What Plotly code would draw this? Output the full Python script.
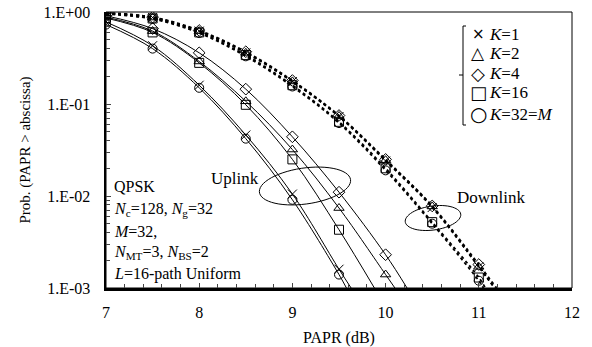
import numpy as np
import plotly.graph_objects as go

# ---------------- data ----------------
k_labels = ["K=1", "K=2", "K=4", "K=16", "K=32=M"]
symbols = ["x-thin-open", "triangle-up-open", "diamond-open", "square-open", "circle-open"]

# Uplink (solid lines), markers every 0.5 dB, last point = where curve meets 1E-3
ul_x_k1 = [7, 7.5, 8, 8.5, 9, 9.5, 9.63]
ul_k1 = [0.78, 0.43, 0.16, 0.046, 0.0105, 0.0016, 0.001]
ul_x_k2 = [7, 7.5, 8, 8.5, 9, 9.5, 10, 10.1]
ul_k2 = [0.88, 0.62, 0.29, 0.107, 0.032, 0.0074, 0.0014, 0.001]
ul_x_k4 = [7, 7.5, 8, 8.5, 9, 9.5, 10, 10.23]
ul_k4 = [0.91, 0.66, 0.36, 0.145, 0.044, 0.011, 0.0023, 0.001]
ul_x_k16 = [7, 7.5, 8, 8.5, 9, 9.5, 9.88]
ul_k16 = [0.86, 0.60, 0.28, 0.098, 0.025, 0.0043, 0.001]
ul_x_k32 = [7, 7.5, 8, 8.5, 9, 9.5, 9.58]
ul_k32 = [0.73, 0.40, 0.15, 0.042, 0.0091, 0.0014, 0.001]

# Downlink (dashed lines)
dl_x = [7, 7.5, 8, 8.5, 9, 9.5, 10, 10.5, 11]
dl_end_x = [11.17, 11.17, 11.19, 11.07, 11.05]
dl_k1 = [0.97, 0.87, 0.62, 0.36, 0.175, 0.073, 0.024, 0.0075, 0.0017]
dl_k2 = [0.97, 0.87, 0.62, 0.36, 0.176, 0.074, 0.0245, 0.0077, 0.0017]
dl_k4 = [0.98, 0.88, 0.63, 0.37, 0.18, 0.075, 0.025, 0.0078, 0.0018]
dl_k16 = [0.96, 0.85, 0.60, 0.34, 0.16, 0.064, 0.020, 0.0052, 0.0013]
dl_k32 = [0.95, 0.84, 0.59, 0.33, 0.155, 0.062, 0.019, 0.0050, 0.0012]

ytick_vals = [1e-3, 1e-2, 1e-1, 1]
ytick_text = ["1.E-03", "1.E-02", "1.E-01", "1.E+00"]
xtick_vals = [7, 8, 9, 10, 11, 12]

# ---------------- figure ----------------
FONT = "Liberation Serif"
fig = go.Figure()

ul_sets = [(ul_x_k1, ul_k1), (ul_x_k2, ul_k2), (ul_x_k4, ul_k4), (ul_x_k16, ul_k16), (ul_x_k32, ul_k32)]
dl_sets = [dl_k1, dl_k2, dl_k4, dl_k16, dl_k32]

for i, (xs, ys) in enumerate(ul_sets):
    fig.add_trace(go.Scatter(x=xs, y=ys, mode="lines", line=dict(color="black", width=1, shape="spline"),
                             showlegend=False, hoverinfo="skip"))
    fig.add_trace(go.Scatter(x=xs[:-1], y=ys[:-1], mode="markers",
                             marker=dict(symbol=symbols[i], size=9, color="black",
                                         line=dict(color="black", width=1)),
                             name=k_labels[i], showlegend=False))

for i, ys in enumerate(dl_sets):
    fig.add_trace(go.Scatter(x=dl_x + [dl_end_x[i]], y=ys + [1e-3], mode="lines",
                             line=dict(color="black", width=1.8, dash="3px,3px", shape="spline"),
                             showlegend=False, hoverinfo="skip"))
    fig.add_trace(go.Scatter(x=dl_x, y=ys, mode="markers",
                             marker=dict(symbol=symbols[i], size=9, color="black",
                                         line=dict(color="black", width=1)),
                             name=k_labels[i], showlegend=False))

# plot area in pixels
L, R, T, B = 106, 572, 12, 288
W, H = R - L, B - T


def px(xp):
    return (xp - L) / W


def py(yp):
    return (B - yp) / H


def ellipse_path(cx, cy, a, b, deg):
    th = np.deg2rad(deg)
    t = np.linspace(0, 2 * np.pi, 60)
    xs = cx + a * np.cos(t) * np.cos(th) + b * np.sin(t) * np.sin(th)
    ys = cy - a * np.cos(t) * np.sin(th) + b * np.sin(t) * np.cos(th)
    pts = [f"{px(x):.4f},{py(y):.4f}" for x, y in zip(xs, ys)]
    return "M" + " L".join(pts) + " Z"


shapes = [
    # thin frame (top/right)
    dict(type="rect", xref="paper", yref="paper", x0=0, y0=0, x1=1, y1=1,
         line=dict(color="black", width=1), layer="below"),
    dict(type="path", xref="paper", yref="paper", path=ellipse_path(305, 186, 46, 18, 8),
         line=dict(color="black", width=1)),
    dict(type="path", xref="paper", yref="paper", path=ellipse_path(433, 218, 28, 12, 8),
         line=dict(color="black", width=1)),
    # legend bracket
    dict(type="path", xref="paper", yref="paper",
         path=f"M{px(466)},{py(26)} L{px(463)},{py(26)} L{px(463)},{py(125)} L{px(466)},{py(125)}",
         line=dict(color="black", width=1)),
    dict(type="line", xref="paper", yref="paper", x0=px(459), y0=py(75), x1=px(463), y1=py(75),
         line=dict(color="black", width=1)),
]

annotations = []
leg_rows = ["×", "△", "◇", "□", "○"]
leg_sizes = [15, 17, 18, 18, 20]
leg_text = ["<i>K</i>=1", "<i>K</i>=2", "<i>K</i>=4", "<i>K</i>=16", "<i>K</i>=32=<i>M</i>"]
leg_y = [34, 53, 73, 93, 114]
for s, sz, tx, yy in zip(leg_rows, leg_sizes, leg_text, leg_y):
    annotations.append(dict(xref="paper", yref="paper", x=px(478), y=py(yy), text=s, showarrow=False,
                            xanchor="center", yanchor="middle",
                            font=dict(family="DejaVu Sans", size=sz, color="black")))
    annotations.append(dict(xref="paper", yref="paper", x=px(487), y=py(yy), text=tx, showarrow=False,
                            xanchor="left", yanchor="middle",
                            font=dict(family=FONT, size=17, color="black")))

info_lines = ["QPSK",
              "<i>N</i><sub>c</sub>=128, <i>N</i><sub>g</sub>=32",
              "<i>M</i>=32,",
              "<i>N</i><sub>MT</sub>=3, <i>N</i><sub>BS</sub>=2",
              "<i>L</i>=16-path Uniform"]
info_y = [187, 209, 231, 252, 274]
for tx, yy in zip(info_lines, info_y):
    annotations.append(dict(xref="paper", yref="paper", x=px(112), y=py(yy), text=tx, showarrow=False,
                            xanchor="left", yanchor="middle",
                            font=dict(family=FONT, size=16, color="black")))

annotations.append(dict(xref="paper", yref="paper", x=px(261), y=py(178), text="Uplink", showarrow=False,
                        xanchor="right", yanchor="middle", font=dict(family=FONT, size=17, color="black")))
annotations.append(dict(xref="paper", yref="paper", x=px(455), y=py(197), text="Downlink", showarrow=False,
                        xanchor="left", yanchor="middle", font=dict(family=FONT, size=17, color="black")))

fig.update_layout(
    width=592, height=347,
    margin=dict(l=L, r=592 - R, t=T, b=347 - B, autoexpand=False),
    paper_bgcolor="white", plot_bgcolor="white",
    font=dict(family=FONT, size=15, color="black"),
    showlegend=False,
    hovermode=False,
    shapes=shapes,
    annotations=annotations,
    xaxis=dict(range=[7, 12], tickvals=xtick_vals, ticks="inside", ticklen=5, tickwidth=1,
               showgrid=False, zeroline=False, showline=True, linewidth=2.5, linecolor="black",
               automargin=False,
               tickfont=dict(family=FONT, size=16), ticklabelstandoff=8, ticklabeloverflow="allow",
               minor=dict(dtick=0.2, ticks="inside", ticklen=4, tickwidth=1, showgrid=False),
               title=dict(text="PAPR (dB)", font=dict(family=FONT, size=16), standoff=12)),
    yaxis=dict(type="log", range=[-3, 0], tickvals=ytick_vals, ticktext=ytick_text,
               ticks="inside", ticklen=5, tickwidth=1, automargin=False,
               showgrid=False, zeroline=False, showline=True, linewidth=2.5, linecolor="black",
               tickfont=dict(family=FONT, size=16), ticklabelstandoff=10, ticklabeloverflow="allow",
               minor=dict(tickvals=[m * 10.0 ** e for e in (-3, -2, -1) for m in range(2, 10)],
                          ticks="inside", ticklen=4, tickwidth=1, showgrid=False),
               title=dict(text="Prob. (PAPR > abscissa)", font=dict(family=FONT, size=15), standoff=10)),
)

fig.write_html("out.html", config={"displayModeBar": False, "staticPlot": True},
               post_script="document.body.style.margin='0px';")
